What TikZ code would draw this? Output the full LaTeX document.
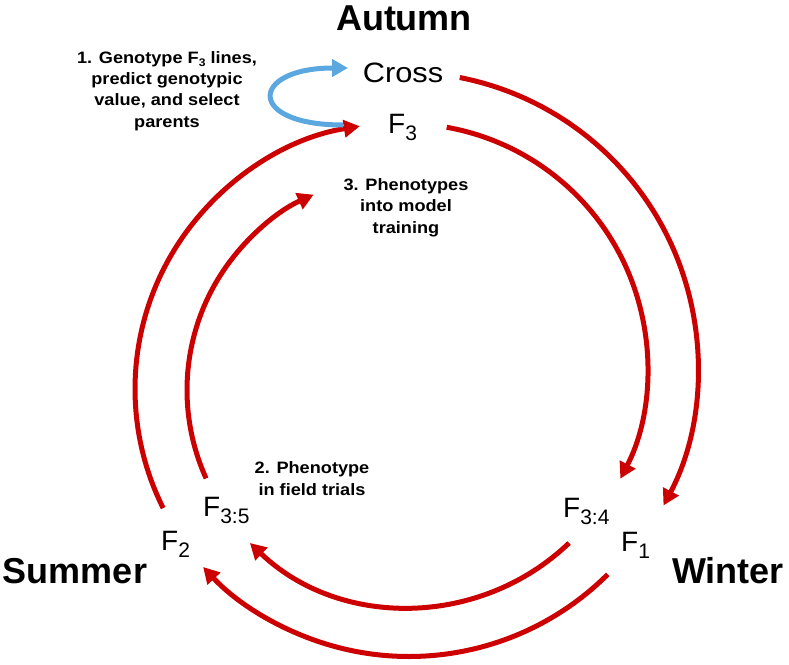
\documentclass[tikz,border=0pt]{standalone}
\usepackage{fontspec}
\setmainfont{Liberation Sans}
\newfontfamily\lblfont{Liberation Sans}[FakeStretch=1.1]
\usetikzlibrary{arrows.meta}

\definecolor{cyclered}{RGB}{204,0,0}
\definecolor{loopblue}{RGB}{91,167,224}

\newcommand{\gen}[1]{F\raisebox{-7pt}{\fontsize{21}{21}\selectfont #1}}
\newcommand{\smallsub}[1]{\raisebox{-3pt}{\fontsize{11}{11}\selectfont #1}}

\begin{document}
\begin{tikzpicture}[x=1pt,y=-1pt,
  season/.style={inner sep=0pt, font=\fontsize{36}{36}\selectfont\bfseries, anchor=base},
  gennode/.style={inner sep=0pt, font=\fontsize{28}{28}\selectfont, anchor=base west},
  note/.style={inner sep=0pt, font=\lblfont\bfseries\fontsize{16.5}{21.3}\selectfont, align=center},
  redarc/.style={draw=cyclered, line width=5pt, -{Triangle[length=16pt,width=17pt]}},
  bluearc/.style={draw=loopblue, line width=5pt, -{Triangle[length=16pt,width=17pt]}},
]
\useasboundingbox (0,0) rectangle (789,664);

% season labels
\node[season] (autumn) at (404,30) {Autumn};
\node[season] (summer) at (75,583) {Summer};
\node[season] (winter) at (728,583) {Winter};

% generation labels
\node[inner sep=0pt, font=\lblfont\fontsize{28}{28}\selectfont, anchor=base] (cross) at (403,82) {Cross};
\node[gennode] (f3) at (388,133) {\gen{3}};
\node[gennode] (f35) at (203,516) {\gen{3:5}};
\node[gennode] (f2) at (161,550) {\gen{2}};
\node[gennode] (f34) at (563,517) {\gen{3:4}};
\node[gennode] (f1) at (621,551) {\gen{1}};

% step notes (base anchor = baseline of the last line)
\node[note, anchor=base] (note1) at (167,127) {1. Genotype F\smallsub{3} lines,\\predict genotypic\\value, and select\\parents};
\node[note, anchor=base] (note2) at (312,495) {2. Phenotype\\in field trials};
\node[note, anchor=base] (note3) at (406,233) {3. Phenotypes\\into model\\training};

% arc end points
\coordinate (cR) at (403,367);
\coordinate (cRi) at (404,367);
\coordinate (cB) at (409,375);
\coordinate (cBi) at (409.5,376);
\coordinate (cL) at (401,389);
\coordinate (cLi) at (401,390);

\path (cR) ++(-78.9:295) coordinate (crossout);
\path (cR) ++(28:295) coordinate (f1in);
\path (cRi) ++(-79.9:243.5) coordinate (f3out);
\path (cRi) ++(27.3:243.5) coordinate (f34in);
\path (cB) ++(45.1:281.5) coordinate (f1out);
\path (cB) ++(137:281.5) coordinate (f2in);
\path (cBi) ++(46.3:231) coordinate (f34out);
\path (cBi) ++(133.7:231) coordinate (f35in);
\path (cL) ++(153.4:266) coordinate (f2out);
\path (cL) ++(261.1:266) coordinate (f3in);
\path (cLi) ++(155.6:214) coordinate (f35out);
\path (cLi) ++(245.9:214) coordinate (note3in);

% red cycle arcs
\draw[redarc] (crossout) arc[start angle=-78.9, end angle=28, radius=295];
\draw[redarc] (f3out) arc[start angle=-79.9, end angle=27.3, radius=243.5];
\draw[redarc] (f1out) arc[start angle=45.1, end angle=137, radius=281.5];
\draw[redarc] (f34out) arc[start angle=46.3, end angle=133.7, radius=231];
\draw[redarc] (f2out) arc[start angle=153.4, end angle=261.1, radius=266];
\draw[redarc] (f35out) arc[start angle=155.6, end angle=245.9, radius=214];

% blue selection loop
\coordinate (loopout) at (343,125);
\coordinate (loopin) at (348,68);
\draw[bluearc] (loopout) .. controls (245,125) and (250,68) .. (loopin);
\end{tikzpicture}
\end{document}
